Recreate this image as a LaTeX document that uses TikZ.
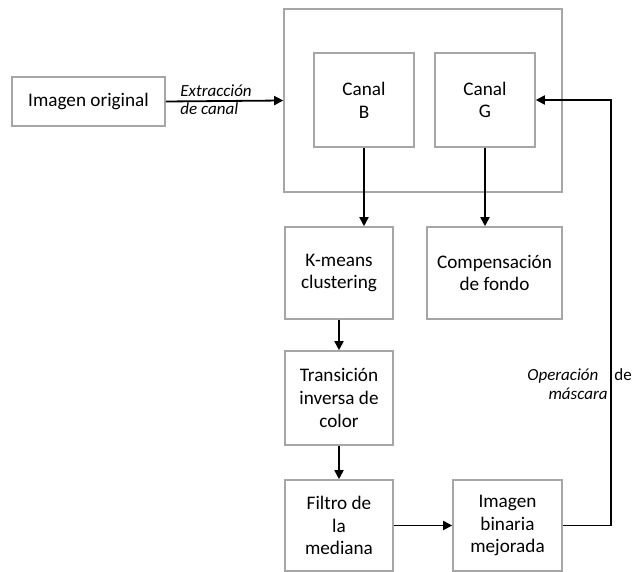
\documentclass[tikz,border=0pt]{standalone}
\usepackage{fontspec}
\setmainfont{Carlito}
\usetikzlibrary{arrows.meta}
\definecolor{borde}{RGB}{166,166,166}
\begin{document}
\begin{tikzpicture}[x=0.5pt,y=-0.5pt,
  caja/.style={draw=borde,line width=0.8pt,align=center,inner sep=0pt,
    font=\fontsize{9.6}{11.4}\selectfont},
  flecha/.style={line width=0.9pt,-{Triangle[length=4.5pt,width=4.5pt]}},
  etiqueta/.style={font=\fontsize{8.5}{10}\selectfont\itshape,inner sep=0pt}]
\useasboundingbox (0,0) rectangle (632,572);
\node[caja,minimum width=153*0.5pt,minimum height=49*0.5pt] (orig) at (88.5,101.5) {Imagen original};
\node[caja,minimum width=278*0.5pt,minimum height=183*0.5pt] (canales) at (423,100.5) {};
\node[caja,minimum width=100*0.5pt,minimum height=94*0.5pt] (canalB) at (364,100) {Canal\\B};
\node[caja,minimum width=100*0.5pt,minimum height=94*0.5pt] (canalG) at (485,100) {Canal\\G};
\node[caja,minimum width=108*0.5pt,minimum height=92*0.5pt] (kmeans) at (339,273) {K-means\\clustering};
\node[caja,minimum width=135*0.5pt,minimum height=92*0.5pt] (comp) at (494.5,273) {Compensación\\de fondo};
\node[caja,minimum width=108*0.5pt,minimum height=94*0.5pt] (trans) at (339,398) {Transición\\inversa de\\color};
\node[caja,minimum width=108*0.5pt,minimum height=91*0.5pt] (filtro) at (339,525.5) {Filtro de\\la\\mediana};
\node[caja,minimum width=109*0.5pt,minimum height=91*0.5pt] (binaria) at (507.5,525.5) {Imagen\\binaria\\mejorada};
\coordinate (vuelta) at (611,100);
% flechas
\draw[flecha] (orig.east) -- (canales.west);
\draw[flecha] (canalB.south) -- (canalB.south |- kmeans.north);
\draw[flecha] (canalG.south) -- (canalG.south |- comp.north);
\draw[flecha] (kmeans.south) -- (trans.north);
\draw[flecha] (trans.south) -- (filtro.north);
\draw[flecha] (filtro.east) -- (binaria.west);
\draw[flecha] (binaria.east) -| (vuelta) -- (canalG.east);
% etiquetas
\node[etiqueta,anchor=base west] (extr) at (180,97) {Extracción};
\node[etiqueta,anchor=base west] (decanal) at (180,115) {de canal};
\node[etiqueta,anchor=base west] (oper) at (527,380) {Operación};
\node[etiqueta,anchor=base west,font=\fontsize{8.5}{10}\selectfont] (de) at (614,380) {de};
\node[etiqueta,anchor=base east] (masc) at (608,400) {máscara};
\end{tikzpicture}
\end{document}
